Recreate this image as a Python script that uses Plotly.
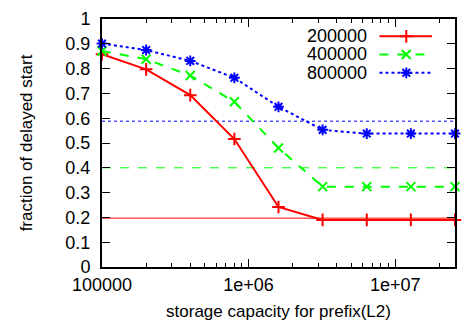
import plotly.graph_objects as go

capacity = [1e5, 2e5, 4e5, 8e5, 1.6e6, 3.2e6, 6.4e6, 1.28e7, 2.56e7]
names = ["200000", "400000", "800000"]
frac_200k = [0.858, 0.797, 0.693, 0.516, 0.242, 0.190, 0.190, 0.190, 0.190]
frac_400k = [0.871, 0.838, 0.772, 0.666, 0.480, 0.324, 0.324, 0.324, 0.324]
frac_800k = [0.901, 0.875, 0.831, 0.763, 0.646, 0.553, 0.538, 0.538, 0.538]
baselines = [0.197, 0.400, 0.588]
x_tickvals = [1e5, 1e6, 1e7]
x_ticktext = ["100000", "1e+06", "1e+07"]
x_minor = [2e5, 3e5, 4e5, 5e5, 6e5, 7e5, 8e5, 9e5,
           2e6, 3e6, 4e6, 5e6, 6e6, 7e6, 8e6, 9e6, 2e7]
y_tickvals = [0, 0.1, 0.2, 0.3, 0.4, 0.5, 0.6, 0.7, 0.8, 0.9, 1.0]
y_ticktext = ["0", "0.1", "0.2", "0.3", "0.4", "0.5", "0.6", "0.7", "0.8", "0.9", "1"]

colors = ["#ff0000", "#00ff00", "#0000ff"]
dashes = ["solid", "dash", "dot"]
symbols = ["cross-thin-open", "x-thin-open", "asterisk-open"]
series = [frac_200k, frac_400k, frac_800k]

FONT = "Liberation Sans, Arial, sans-serif"
MS = 9
fig = go.Figure()

# baselines
for b, c, d in zip(baselines, colors, dashes):
    fig.add_trace(go.Scatter(x=[capacity[0], capacity[-1]], y=[b, b], mode="lines",
                             line=dict(color=c, width=1, dash=d), showlegend=False,
                             hoverinfo="skip"))

for ys, c, d, s, n in zip(series, colors, dashes, symbols, names):
    fig.add_trace(go.Scatter(x=capacity, y=ys, mode="lines+markers", name=n,
                             line=dict(color=c, width=2, dash=d),
                             marker=dict(symbol=s, size=MS, color=c,
                                         line=dict(color=c, width=2)),
                             showlegend=False, cliponaxis=False))

# manual gnuplot-style legend (text then sample) on an overlay axis
leg_y = [0.930, 0.857, 0.783]
for ly, c, d, s, n in zip(leg_y, colors, dashes, symbols, names):
    fig.add_trace(go.Scatter(x=[0.786, 0.935], y=[ly, ly], mode="lines",
                             line=dict(color=c, width=2, dash=d),
                             xaxis="x2", yaxis="y2", showlegend=False, hoverinfo="skip"))
    fig.add_trace(go.Scatter(x=[0.862], y=[ly], mode="markers",
                             marker=dict(symbol=s, size=MS, color=c, line=dict(color=c, width=2)),
                             xaxis="x2", yaxis="y2", showlegend=False, hoverinfo="skip"))
    fig.add_annotation(x=0.755, y=ly, xref="x2", yref="y2", text=n, showarrow=False,
                       xanchor="right", yanchor="middle", font=dict(family=FONT, size=18, color="black"))

fig.update_layout(
    width=466, height=329,
    margin=dict(l=102, r=9, t=14, b=62),
    paper_bgcolor="white", plot_bgcolor="white",
    font=dict(family=FONT, size=18, color="black"),
    showlegend=False,
    xaxis=dict(type="log", range=[5, 7.40824], tickvals=x_tickvals, ticktext=x_ticktext,
               ticks="inside", ticklen=8, tickwidth=1, tickcolor="black",
               minor=dict(ticks="inside", ticklen=4, tickwidth=1, tickcolor="black",
                          tickvals=x_minor, showgrid=False),
               showline=True, linecolor="black", linewidth=2, mirror="allticks",
               showgrid=False, zeroline=False, ticklabelstandoff=0,
               title=dict(text="storage capacity for prefix(L2)", font=dict(size=17), standoff=12),
               tickfont=dict(size=18)),
    yaxis=dict(range=[0, 1], tickvals=y_tickvals, ticktext=y_ticktext,
               ticks="inside", ticklen=8, tickwidth=1, tickcolor="black",
               showline=True, linecolor="black", linewidth=2, mirror="allticks",
               showgrid=False, zeroline=False, ticklabelstandoff=6,
               title=dict(text="fraction of delayed start", font=dict(size=17), standoff=28),
               tickfont=dict(size=18)),
    xaxis2=dict(range=[0, 1], overlaying="x", visible=False, fixedrange=True),
    yaxis2=dict(range=[0, 1], overlaying="y", visible=False, fixedrange=True),
)

fig.write_html("out.html")
